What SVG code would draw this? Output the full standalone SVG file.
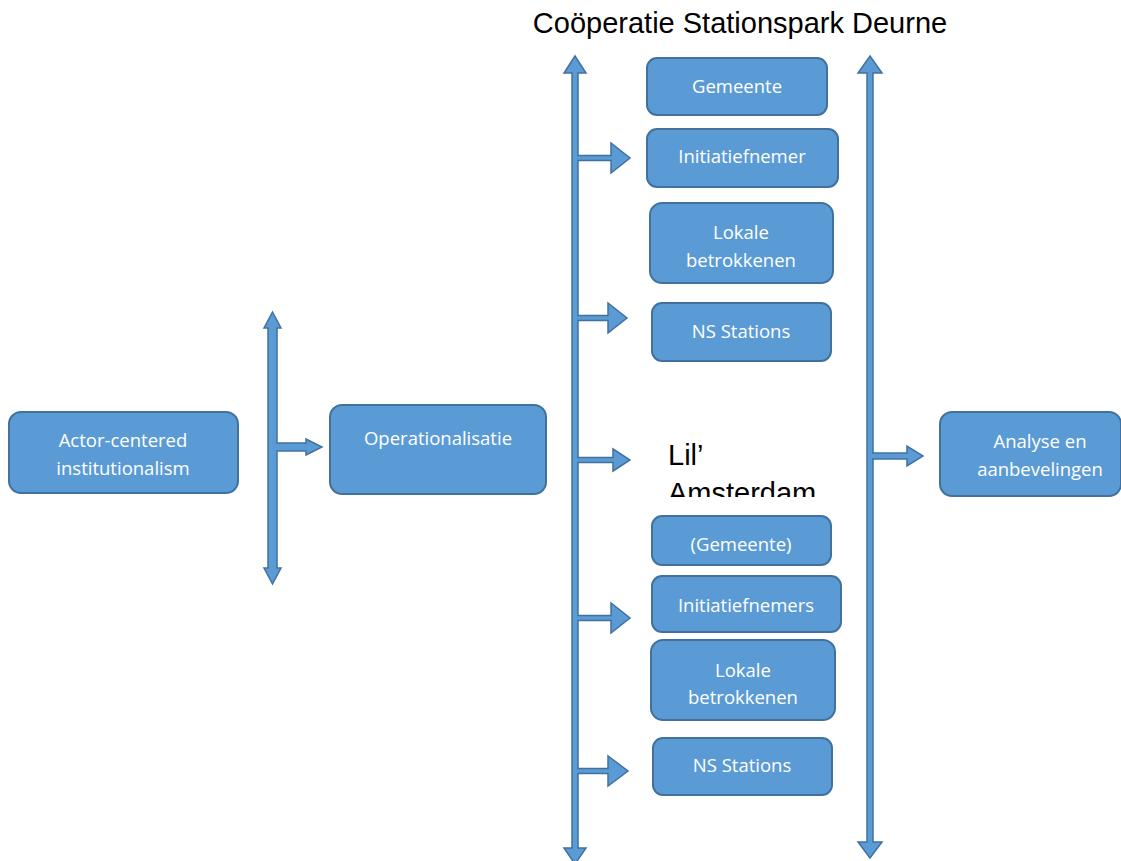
<svg xmlns="http://www.w3.org/2000/svg" width="1121" height="861" viewBox="0 0 1121 861">
<style>
.box{fill:#5B9BD5;stroke:#41719C;stroke-width:2}
.lbl{font-family:"Open Sans","Noto Sans",sans-serif;font-size:18.5px;fill:#FFFFFF;text-anchor:middle}
.arr{fill:#5B9BD5;stroke:#41719C;stroke-width:1.5;stroke-linejoin:miter}
.big{font-family:"Liberation Sans",Arial,sans-serif;font-size:29px;fill:#000000}
</style>
<defs>
<clipPath id="lilclip"><rect x="660" y="430" width="200" height="67"/></clipPath>
</defs>
<rect width="1121" height="861" fill="#FFFFFF"/>
<text class="big" x="740" y="33" text-anchor="middle">Coöperatie Stationspark Deurne</text>
<g id="connectors">
<path class="arr" d="M 272.5 312 L 281 328 L 277 328 L 277 443 L 306 443 L 306 439 L 322 447 L 306 455 L 306 451 L 277 451 L 277 568 L 281 568 L 272.5 584 L 264 568 L 268 568 L 268 328 L 264 328 Z"/>
<path class="arr" d="M 575 56 L 586 73 L 578 73 L 578 155.5 L 611 155.5 L 611 143 L 630 158 L 611 173 L 611 160.5 L 578 160.5 L 578 315.5 L 608 315.5 L 608 303 L 627 318 L 608 333 L 608 320.5 L 578 320.5 L 578 457.5 L 613 457.5 L 613 449 L 630 460 L 613 471 L 613 462.5 L 578 462.5 L 578 615.5 L 611 615.5 L 611 603 L 630 618 L 611 633 L 611 620.5 L 578 620.5 L 578 768.5 L 608 768.5 L 608 756 L 628 771 L 608 786 L 608 773.5 L 578 773.5 L 578 848 L 586 848 L 575 864 L 564 848 L 572 848 L 572 73 L 564 73 Z"/>
<path class="arr" d="M 870 56 L 882 73 L 873 73 L 873 453 L 907 453 L 907 446 L 923 456 L 907 466 L 907 459 L 873 459 L 873 842 L 882 842 L 870 858 L 858 842 L 867 842 L 867 73 L 858 73 Z"/>
</g>
<g id="actor">
<rect class="box" x="9" y="412" width="229" height="81" rx="12"/>
<text class="lbl" x="123" y="447">Actor-centered</text>
<text class="lbl" x="123" y="475">institutionalism</text>
</g>
<g id="operationalisatie">
<rect class="box" x="330" y="405" width="216" height="89" rx="12"/>
<text class="lbl" x="438" y="445">Operationalisatie</text>
</g>
<g id="gemeente">
<rect class="box" x="647" y="58" width="180" height="57" rx="10"/>
<text class="lbl" x="737" y="93">Gemeente</text>
</g>
<g id="initiatiefnemer">
<rect class="box" x="647" y="129" width="191" height="58" rx="10"/>
<text class="lbl" x="742" y="163">Initiatiefnemer</text>
</g>
<g id="lokale1">
<rect class="box" x="650" y="203" width="183" height="80" rx="12"/>
<text class="lbl" x="741" y="239">Lokale</text>
<text class="lbl" x="741" y="267">betrokkenen</text>
</g>
<g id="ns1">
<rect class="box" x="652" y="303" width="179" height="58" rx="10"/>
<text class="lbl" x="741" y="338">NS Stations</text>
</g>
<g id="lil-amsterdam">
<g clip-path="url(#lilclip)">
<text class="big" x="668" y="465">Lil’</text>
<text class="big" x="668" y="503">Amsterdam</text>
</g>
</g>
<g id="gemeente2">
<rect class="box" x="652" y="516" width="179" height="49" rx="10"/>
<text class="lbl" x="741" y="551">(Gemeente)</text>
</g>
<g id="initiatiefnemers">
<rect class="box" x="652" y="576" width="189" height="56" rx="10"/>
<text class="lbl" x="746" y="612">Initiatiefnemers</text>
</g>
<g id="lokale2">
<rect class="box" x="651" y="640" width="184" height="80" rx="12"/>
<text class="lbl" x="743" y="677">Lokale</text>
<text class="lbl" x="743" y="704">betrokkenen</text>
</g>
<g id="ns2">
<rect class="box" x="653" y="738" width="179" height="57" rx="10"/>
<text class="lbl" x="742" y="772">NS Stations</text>
</g>
<g id="analyse">
<rect class="box" x="940" y="412" width="181" height="84" rx="12"/>
<text class="lbl" x="1040" y="448">Analyse en</text>
<text class="lbl" x="1040" y="476">aanbevelingen</text>
</g>
</svg>
